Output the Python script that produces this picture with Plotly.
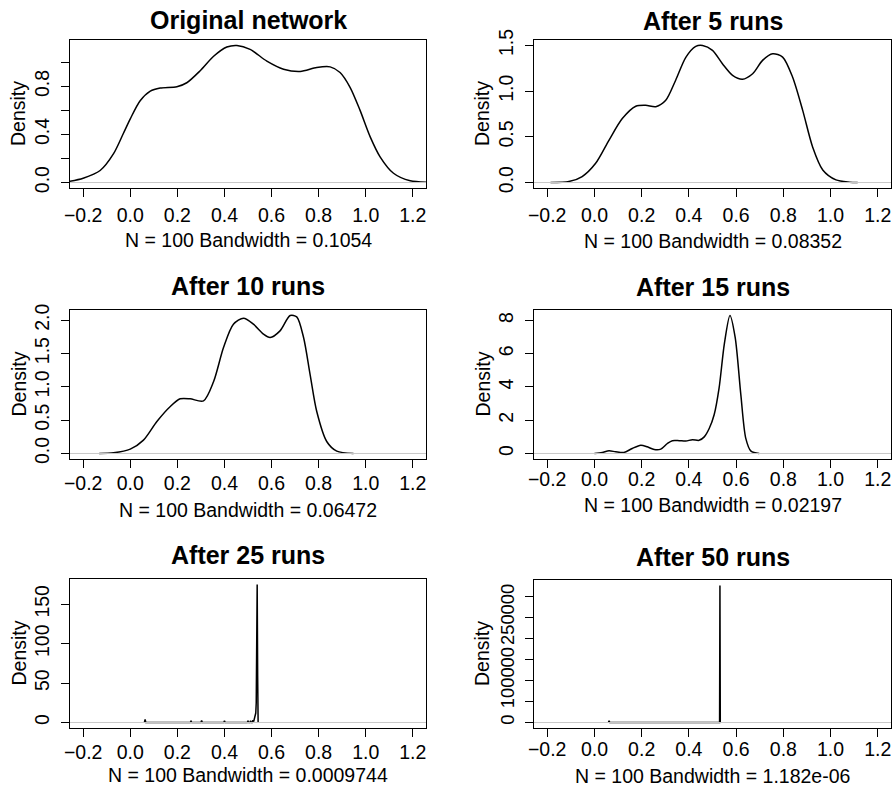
import plotly.graph_objects as go

W, H = 893, 786
FONT = "Liberation Sans, Arial, Helvetica, sans-serif"

# ---------------- data ----------------
titles = ["Original network", "After 5 runs", "After 10 runs",
          "After 15 runs", "After 25 runs", "After 50 runs"]
bandwidths = ["0.1054", "0.08352", "0.06472", "0.02197", "0.0009744", "1.182e-06"]
n_obs = 100

orig_x = [-0.257, -0.2, -0.128, -0.071, -0.029, 0.0, 0.042, 0.085, 0.127, 0.198, 0.24,
          0.297, 0.354, 0.41, 0.453, 0.509, 0.58, 0.651, 0.722, 0.792, 0.849, 0.891,
          0.934, 0.976, 1.019, 1.061, 1.118, 1.189, 1.257]
orig_y = [0.01, 0.036, 0.10, 0.24, 0.41, 0.53, 0.68, 0.76, 0.786, 0.797, 0.83,
          0.93, 1.05, 1.127, 1.14, 1.108, 1.01, 0.943, 0.924, 0.957, 0.962, 0.915,
          0.79, 0.60, 0.38, 0.214, 0.077, 0.014, 0.003]

run5_x = [-0.186, -0.108, -0.052, 0.005, 0.062, 0.118, 0.175, 0.217, 0.26, 0.302, 0.344,
          0.387, 0.429, 0.458, 0.50, 0.542, 0.585, 0.627, 0.67, 0.712, 0.755, 0.797,
          0.839, 0.882, 0.924, 0.967, 1.023, 1.08, 1.115]
run5_y = [0.0, 0.01, 0.065, 0.21, 0.465, 0.70, 0.835, 0.846, 0.83, 0.90, 1.12,
          1.37, 1.49, 1.50, 1.446, 1.30, 1.173, 1.13, 1.19, 1.337, 1.41, 1.373,
          1.155, 0.79, 0.39, 0.138, 0.029, 0.004, 0.0]

run10_x = [-0.132, -0.071, 0.0, 0.056, 0.113, 0.17, 0.212, 0.254, 0.311, 0.354, 0.396,
           0.438, 0.481, 0.523, 0.566, 0.594, 0.636, 0.679, 0.707, 0.736, 0.764, 0.792,
           0.835, 0.877, 0.948]
run10_y = [0.0, 0.01, 0.065, 0.20, 0.48, 0.705, 0.82, 0.82, 0.79, 1.08, 1.59,
           1.94, 2.03, 1.94, 1.79, 1.74, 1.84, 2.07, 2.05, 1.74, 1.18, 0.63,
           0.176, 0.035, 0.0]

run15_x = [0.0, 0.033, 0.062, 0.09, 0.125, 0.16, 0.196, 0.224, 0.253, 0.281, 0.309,
           0.33, 0.359, 0.387, 0.415, 0.443, 0.465, 0.486, 0.507, 0.528, 0.55,
           0.574, 0.596, 0.62, 0.641, 0.663, 0.698]
run15_y = [0.0, 0.06, 0.16, 0.10, 0.06, 0.3, 0.5, 0.4, 0.24, 0.26, 0.6,
           0.77, 0.77, 0.75, 0.83, 0.79, 1.0, 1.5, 2.33, 3.95, 6.58,
           8.3, 6.98, 3.54, 0.91, 0.14, 0.0]

run25_x = [0.060, 0.063, 0.066, 0.255, 0.258, 0.261, 0.300, 0.303, 0.306, 0.397, 0.400,
           0.403, 0.497, 0.500, 0.503, 0.508, 0.511, 0.514, 0.518, 0.521, 0.524, 0.527,
           0.530, 0.533, 0.535, 0.537, 0.539, 0.541, 0.543]
run25_y = [0, 4, 0, 0, 1.5, 0, 0, 2.5, 0, 0, 2,
           0, 0, 1.5, 0, 0, 2, 0, 0, 3, 1, 6,
           10, 12, 25, 120, 175, 60, 0]

run50_x = [0.059, 0.062, 0.065, 0.530, 0.5315, 0.533]
run50_y = [0, 4000, 0, 0, 325000, 0]

x_ticks = [-0.2, 0.0, 0.2, 0.4, 0.6, 0.8, 1.0, 1.2]
x_ticktext = ["\u22120.2", "0.0", "0.2", "0.4", "0.6", "0.8", "1.0", "1.2"]

y_ticks = [
    [0.0, 0.2, 0.4, 0.6, 0.8, 1.0],
    [0.0, 0.5, 1.0, 1.5],
    [0.0, 0.5, 1.0, 1.5, 2.0],
    [0, 2, 4, 6, 8],
    [0, 50, 100, 150],
    [0, 50000, 100000, 150000, 200000, 250000, 300000],
]
y_ticktext = [
    ["0.0", "", "0.4", "", "0.8", ""],
    ["0.0", "0.5", "1.0", "1.5"],
    ["0.0", "0.5", "1.0", "1.5", "2.0"],
    ["0", "2", "4", "6", "8"],
    ["0", "50", "100", "150"],
    ["0", "", "100000", "", "", "250000", ""],
]

series = [(orig_x, orig_y, True), (run5_x, run5_y, True), (run10_x, run10_y, True),
          (run15_x, run15_y, True), (run25_x, run25_y, False), (run50_x, run50_y, False)]

# ---------------- layout geometry (pixels) ----------------
boxes = [  # left, right, top, bottom
    (70, 426, 40, 188), (534, 891, 40, 188),
    (70, 426, 310, 459), (534, 891, 310, 459),
    (70, 426, 579, 728), (534, 891, 580, 728),
]
title_y = [20.5, 21, 285.7, 287.3, 555, 556.5]
xlab_y = [240.3, 241.3, 509.7, 505, 775, 775.5]
xtick_standoff = [1, 1, -2, -6, -2, -5]
ytick_size = [19.5, 19.5, 19.5, 19.5, 19.5, 18.3]

TXT = 19.5     # regular text
T_TXT = 25     # titles

fig = go.Figure()
layout = dict(width=W, height=H, template="none",
              margin=dict(l=0, r=0, t=0, b=0, pad=0, autoexpand=False),
              paper_bgcolor="white", plot_bgcolor="white", showlegend=False,
              font=dict(family=FONT, color="black", size=TXT))
annotations = []
shapes = []

xr = [-0.2 - 0.04 * 1.4, 1.2 + 0.04 * 1.4]

for i, ((xs, ys, smooth), (l, r, t, b)) in enumerate(zip(series, boxes)):
    k = "" if i == 0 else str(i + 1)
    ymax = max(ys)
    yr = [-0.04 * ymax, 1.04 * ymax]
    fig.add_trace(go.Scatter(
        x=xs, y=ys, mode="lines", xaxis="x" + k, yaxis="y" + k,
        line=dict(color="black", width=1.5,
                  shape="spline" if smooth else "linear", smoothing=0.8),
        hoverinfo="skip"))
    common = dict(showline=True, mirror=True, linecolor="black", linewidth=1.3,
                  ticks="outside", ticklen=8, tickwidth=1.3, tickcolor="black",
                  showgrid=False, zeroline=False, fixedrange=True, automargin=False,
                  ticklabeloverflow="allow")
    layout["xaxis" + k] = dict(common, domain=[l / W, r / W], range=xr,
                               anchor="y" + k, tickvals=x_ticks, ticktext=x_ticktext,
                               tickangle=0, ticklabelstandoff=xtick_standoff[i],
                               tickfont=dict(family=FONT, size=TXT, color="black"))
    layout["yaxis" + k] = dict(common, domain=[1 - b / H, 1 - t / H], range=yr,
                               anchor="x" + k, tickvals=y_ticks[i],
                               ticktext=y_ticktext[i], tickangle=-90,
                               ticklabelstandoff=4,
                               tickfont=dict(family=FONT, size=ytick_size[i], color="black"))
    # grey zero line drawn over the curve, as R's plot.density does
    shapes.append(dict(type="line", xref="x" + k + " domain", yref="y" + k,
                       x0=0, x1=1, y0=0, y1=0, layer="above",
                       line=dict(color="#c8c8c8", width=1)))
    cx = (l + r) / 2
    annotations.append(dict(text="<b>" + titles[i] + "</b>", x=cx / W, y=1 - title_y[i] / H,
                            xref="paper", yref="paper", xanchor="center", yanchor="middle",
                            showarrow=False, font=dict(family=FONT, size=T_TXT, color="black")))
    annotations.append(dict(text="N = %d Bandwidth = %s" % (n_obs, bandwidths[i]),
                            x=cx / W, y=1 - xlab_y[i] / H, xref="paper", yref="paper",
                            xanchor="center", yanchor="middle", showarrow=False,
                            font=dict(family=FONT, size=TXT, color="black")))
    annotations.append(dict(text="Density", x=(l - 52) / W, y=1 - ((t + b) / 2) / H,
                            xref="paper", yref="paper", xanchor="center", yanchor="middle",
                            textangle=-90, showarrow=False,
                            font=dict(family=FONT, size=TXT, color="black")))

layout["annotations"] = annotations
layout["shapes"] = shapes
fig.update_layout(**layout)
fig.write_html("out.html", config={"displayModeBar": False},
               post_script="document.body.style.margin='0';document.body.style.overflow='hidden';")
